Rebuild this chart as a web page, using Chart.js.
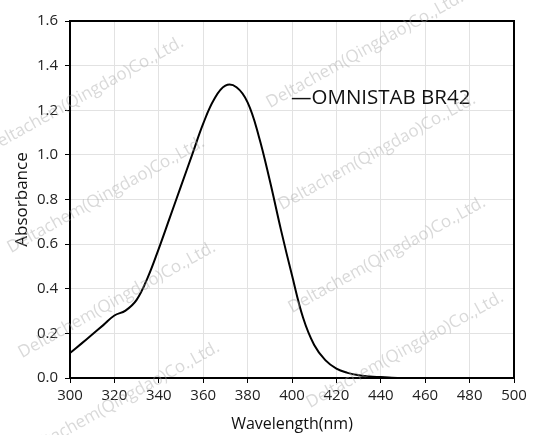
<!DOCTYPE html>
<html>
<head>
<meta charset="utf-8">
<script src="https://cdn.jsdelivr.net/npm/chart.js@4"></script>
<style>
  html, body { margin: 0; padding: 0; background: #fff; }
  #wrap { width: 542px; height: 435px; }
</style>
</head>
<body>
<div id="wrap"><canvas id="uvChart"></canvas></div>
<script>
// wavelength (nm) and absorbance
var wavelength = [300, 305, 310, 315, 320, 325, 330, 335, 340, 345, 350, 355, 360, 365, 370, 375, 380, 385, 390, 395, 400, 405, 410, 415, 420, 425, 430, 435, 440, 445, 449];
var absorbance = [0.112, 0.153, 0.195, 0.237, 0.28, 0.302, 0.35, 0.45, 0.58, 0.72, 0.86, 1.0, 1.14, 1.25, 1.31, 1.303, 1.235, 1.085, 0.885, 0.665, 0.46, 0.27, 0.148, 0.08, 0.042, 0.023, 0.012, 0.007, 0.004, 0.001, 0];
var seriesName = 'OMNISTAB BR42';
var xTicks = [300, 320, 340, 360, 380, 400, 420, 440, 460, 480, 500];
var yTicks = [0, 0.2, 0.4, 0.6, 0.8, 1.0, 1.2, 1.4, 1.6];
var watermark = 'Deltachem(Qingdao)Co.,Ltd.';

var points = wavelength.map(function (w, i) { return { x: w, y: absorbance[i] }; });

// box round the plot, legend text and the faint watermarks
var decor = {
    id: 'decor',
    afterDraw: function (chart) {
        var ctx = chart.ctx;
        var a = chart.chartArea;
        ctx.save();
        ctx.strokeStyle = '#000';
        ctx.lineWidth = 2;
        ctx.strokeRect(a.left, a.top, a.right - a.left, a.bottom - a.top);

        ctx.fillStyle = '#111';
        ctx.font = '20.5px "Open Sans"';
        ctx.textBaseline = 'middle';
        ctx.fillText('\u2014' + seriesName, 291, 98);

        ctx.fillStyle = 'rgba(160,160,160,0.4)';
        ctx.font = '17px "Open Sans"';
        ctx.textAlign = 'center';
        var spots = [[85, 95], [106, 195], [117, 300], [121, 400], [365, 50], [377, 152], [387, 255], [405, 350]];
        spots.forEach(function (p) {
            ctx.save();
            ctx.translate(p[0], p[1]);
            ctx.rotate(-29 * Math.PI / 180);
            ctx.fillText(watermark, 0, 0);
            ctx.restore();
        });
        ctx.restore();
    }
};

new Chart(document.getElementById('uvChart'), {
    type: 'line',
    data: {
        datasets: [{
            label: seriesName,
            data: points,
            borderColor: '#000',
            borderWidth: 2,
            pointRadius: 0,
            fill: false,
            tension: 0.4
        }]
    },
    options: {
        responsive: true,
        maintainAspectRatio: false,
        animation: false,
        layout: { padding: { top: 21, right: 28, left: 0, bottom: 0 } },
        plugins: {
            legend: { display: false },
            tooltip: { enabled: false }
        },
        scales: {
            x: {
                type: 'linear',
                min: 300,
                max: 500,
                afterBuildTicks: function (s) { s.ticks = xTicks.map(function (v) { return { value: v }; }); },
                afterFit: function (s) { s.height = 57; },
                grid: { color: '#e2e2e2', tickColor: '#000', tickLength: 5 },
                border: { color: '#000', width: 2 },
                ticks: { color: '#222', padding: 4, maxRotation: 0, font: { family: 'Open Sans', size: 15 } },
                title: { display: true, text: 'Wavelength(nm)', color: '#111', padding: { top: 0, bottom: 1 }, font: { family: 'Open Sans', size: 16 } }
            },
            y: {
                min: 0,
                max: 1.6,
                afterBuildTicks: function (s) { s.ticks = yTicks.map(function (v) { return { value: v }; }); },
                afterFit: function (s) { s.width = 70; },
                grid: { color: '#e2e2e2', tickColor: '#000', tickLength: 5 },
                border: { color: '#000', width: 2 },
                ticks: {
                    color: '#222',
                    padding: 7,
                    font: { family: 'Open Sans', size: 15 },
                    callback: function (v) { return v.toFixed(1); }
                },
                title: { display: true, text: 'Absorbance', color: '#111', padding: { top: 12, bottom: 0 }, font: { family: 'Open Sans', size: 17 } }
            }
        }
    },
    plugins: [decor]
});
</script>
</body>
</html>
